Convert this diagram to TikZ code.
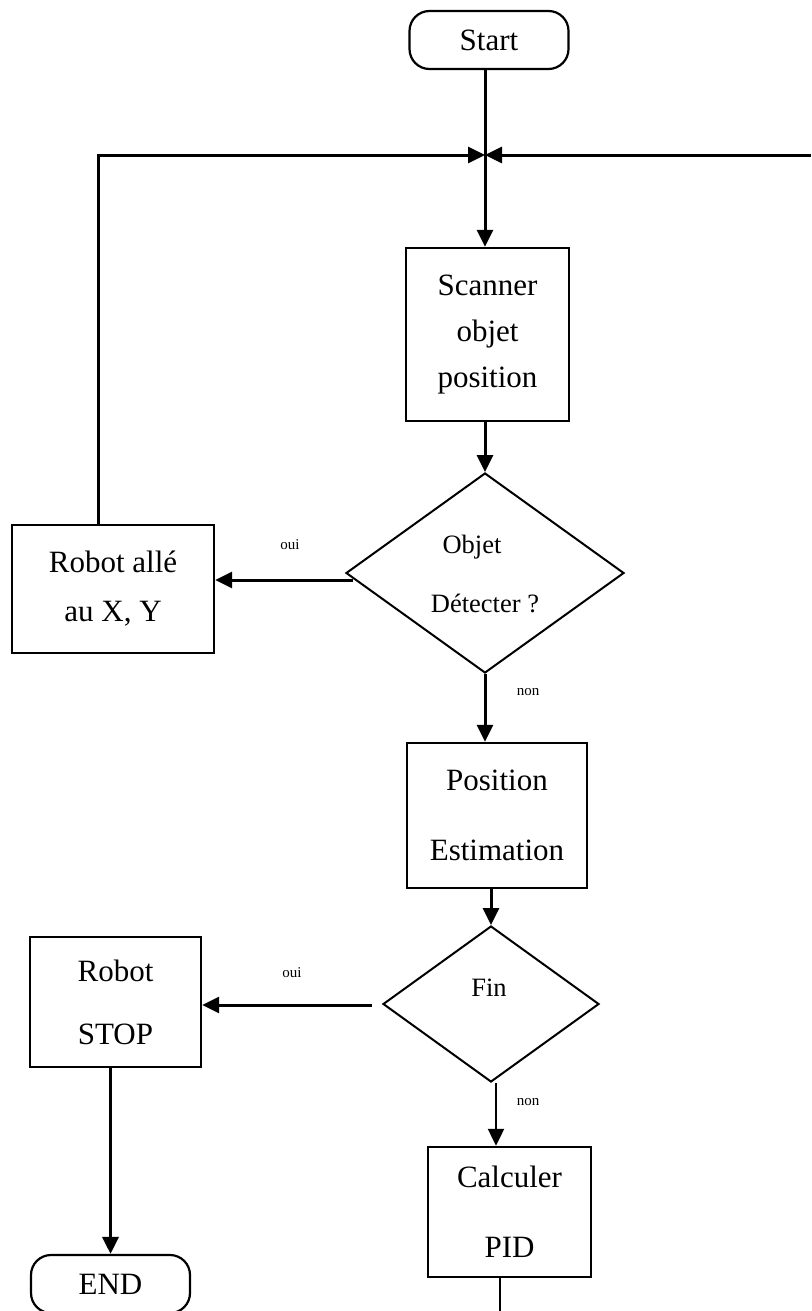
\documentclass[tikz,border=0pt]{standalone}
\usepackage{fontspec}
\setmainfont{Liberation Serif}
\usetikzlibrary{shapes.geometric,arrows.meta}
\begin{document}
\begin{tikzpicture}[x=1pt,y=-1pt,
  box/.style={draw,line width=2.4pt,inner sep=0pt,align=center,font=\fontsize{31}{37}\selectfont},
  term/.style={draw,line width=2.2pt,rounded corners=20pt,inner sep=0pt,font=\fontsize{31}{36}\selectfont},
  decision/.style={draw,diamond,line width=2pt,inner sep=0pt},
  dtext/.style={font=\fontsize{26.5}{30}\selectfont,inner sep=0pt},
  lbl/.style={font=\fontsize{15}{17}\selectfont,inner sep=0pt},
  arr/.style={line width=3pt,-{Triangle[length=17pt,width=16pt]}},
]
\useasboundingbox (0,0) rectangle (811,1311);

% terminals, process boxes and decisions
\node[term,minimum width=159pt,minimum height=58pt] (start) at (489,40) {Start};
\coordinate (J) at (485,155);
\coordinate (L) at (98,155);
\coordinate (R) at (811,155);
\node[box,minimum width=163pt,minimum height=173pt] (scan) at (487.5,334.5) {Scanner\\[9pt]objet\\[9pt]position};
\node[decision,minimum width=278pt,minimum height=200pt] (d1) at (485,573) {};
\node[dtext] (d1a) at (472,547) {Objet};
\node[dtext] (d1b) at (485,603) {Détecter ?};
\node[box,minimum width=202pt,minimum height=128pt] (robot1) at (113,589) {Robot allé\\[12pt]au X, Y};
\node[box,minimum width=180pt,minimum height=145pt] (pos) at (497,815.5) {Position\\[33pt]Estimation};
\node[decision,minimum width=216pt,minimum height=156pt] (d2) at (491,1004) {};
\node[dtext] (d2a) at (489,988) {Fin};
\node[box,minimum width=171pt,minimum height=130pt] (stop) at (115.5,1002) {Robot\\[26pt]STOP};
\node[term,minimum width=159pt,minimum height=58pt] (endn) at (110.5,1284) {END};
\node[box,minimum width=163pt,minimum height=130pt] (calc) at (509.5,1212) {Calculer\\[33pt]PID};
\coordinate (bottom) at (500,1311);
\coordinate (d1o) at ([xshift=8pt,yshift=-7pt]d1.west);
\coordinate (d2o) at ([xshift=-10pt,yshift=-1pt]d2.west);

% branch labels
\node[lbl] (oui1) at (290,545) {oui};
\node[lbl] (non1) at (528,692) {non};
\node[lbl] (oui2) at (292,973) {oui};
\node[lbl] (non2) at (528,1102) {non};

% connectors
\draw[arr] (start.south -| J) -- (scan.north -| J);
\draw[arr] (robot1.north -| L) -- (L) -- (J);
\draw[arr] (R) -- (J);
\draw[arr] (scan.south -| d1.north) -- (d1.north);
\draw[arr] (d1o) -- (d1o -| robot1.east);
\draw[arr] (d1.south) -- (d1.south |- pos.north);
\draw[arr] (pos.south -| d2.north) -- (d2.north);
\draw[arr] (d2o) -- (d2o -| stop.east);
\draw[arr,line width=2.2pt] ([xshift=5pt]d2.south) -- ([xshift=5pt]d2.south |- calc.north);
\draw[arr] (endn.north |- stop.south) -- (endn.north);
\draw[line width=2pt] (calc.south -| bottom) -- (bottom);
\end{tikzpicture}
\end{document}
